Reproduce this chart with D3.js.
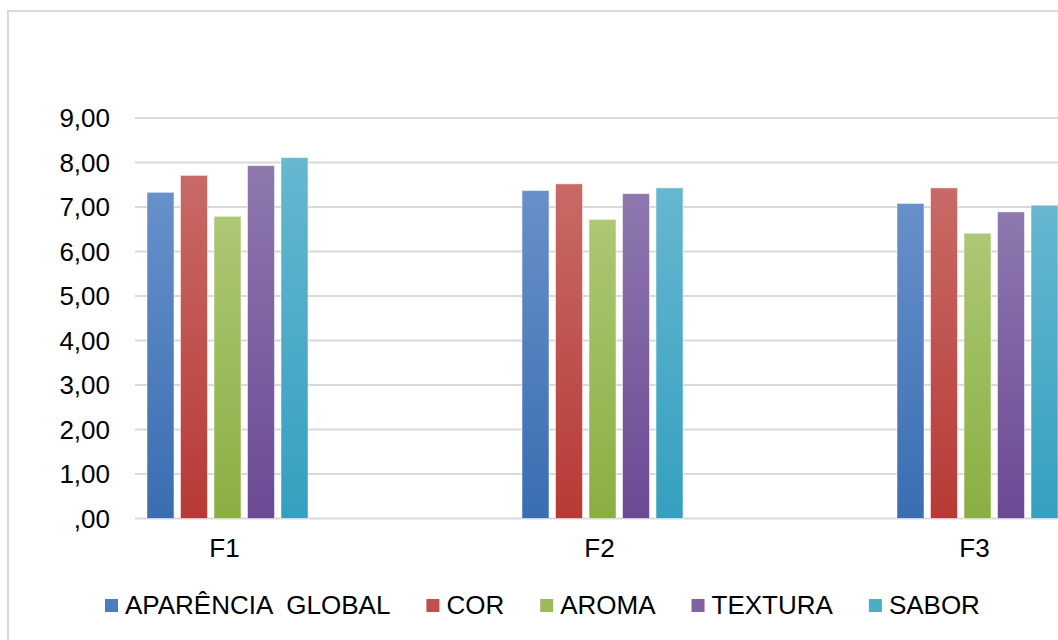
<!DOCTYPE html>
<html>
<head>
<meta charset="utf-8">
<script src="https://cdn.jsdelivr.net/npm/d3@7"></script>
<style>
  body { margin: 0; background: #fff; }
  text { font-family: "Liberation Sans", Arial, sans-serif; fill: #000; }
</style>
</head>
<body>
<div id="chart"></div>
<script>
// dados
let categories = ["F1", "F2", "F3"];
let series = ["APARÊNCIA  GLOBAL", "COR", "AROMA", "TEXTURA", "SABOR"];
let aparencia = [7.33, 7.37, 7.08];
let cor = [7.71, 7.52, 7.43];
let aroma = [6.79, 6.72, 6.41];
let textura = [7.93, 7.30, 6.89];
let sabor = [8.11, 7.43, 7.04];
let yTicks = [0, 1, 2, 3, 4, 5, 6, 7, 8, 9];
let yTickLabels = [",00", "1,00", "2,00", "3,00", "4,00", "5,00", "6,00", "7,00", "8,00", "9,00"];

let values = [aparencia, cor, aroma, textura, sabor];
// cores (topo, base) para o gradiente de cada serie
let colors = [
    ["#6890ca", "#3a6db1"],
    ["#c86a66", "#b73a36"],
    ["#acc874", "#8bae42"],
    ["#8e78ae", "#6b4a94"],
    ["#66b7d0", "#34a0bf"]
];
let legendColors = ["#4a7ebf", "#c0504d", "#9bbb59", "#8064a2", "#4bacc6"];

let W = 1058, H = 640;
let svg = d3.select("#chart").append("svg").attr("width", W).attr("height", H);

// moldura
svg.append("rect")
    .attr("x", 8).attr("y", 11)
    .attr("width", 1200).attr("height", 800)
    .attr("fill", "#fff")
    .style("stroke", "#d9d9d9")
    .style("stroke-width", 2);

let y = d3.scaleLinear().domain([0, 9]).range([518.5, 118]);
let x0 = d3.scaleBand().domain(categories).range([40, 1165]);
let x1 = d3.scaleBand().domain(series).range([0, 161]).paddingInner(0.194);

let defs = svg.append("defs");
colors.forEach((c, i) => {
    let g = defs.append("linearGradient")
        .attr("id", "grad" + i)
        .attr("x1", 0).attr("y1", 0).attr("x2", 0).attr("y2", 1);
    g.append("stop").attr("offset", "0%").attr("stop-color", c[0]);
    g.append("stop").attr("offset", "100%").attr("stop-color", c[1]);
});

// linhas de grade
svg.append("g")
    .selectAll("line")
    .data(yTicks)
    .join("line")
    .attr("x1", 135).attr("x2", W)
    .attr("y1", d => y(d)).attr("y2", d => y(d))
    .style("stroke", "#d9d9d9")
    .style("stroke-width", 2);

// rotulos do eixo y
svg.append("g")
    .selectAll("text")
    .data(yTicks)
    .join("text")
    .attr("x", 110)
    .attr("y", d => y(d))
    .attr("dy", "0.35em")
    .attr("text-anchor", "end")
    .style("font-size", "26px")
    .text((d, i) => yTickLabels[i]);

// barras
let groups = svg.append("g")
    .selectAll("g")
    .data(categories)
    .join("g")
    .attr("transform", d => "translate(" + (x0(d) + x0.bandwidth() / 2 - 80.5) + ",0)");

groups.selectAll("rect")
    .data((d, ci) => series.map((s, si) => ({ s, si, v: values[si][ci] })))
    .join("rect")
    .attr("x", d => x1(d.s))
    .attr("y", d => y(d.v))
    .attr("width", x1.bandwidth())
    .attr("height", d => y(0) - y(d.v))
    .attr("fill", d => "url(#grad" + d.si + ")")
    .style("stroke", "#fff")
    .style("stroke-opacity", 0.5)
    .style("stroke-width", 1);

// rotulos das categorias
svg.append("g")
    .selectAll("text")
    .data(categories)
    .join("text")
    .attr("x", d => x0(d) + x0.bandwidth() / 2 - 3)
    .attr("y", 557)
    .attr("text-anchor", "middle")
    .style("font-size", "26px")
    .text(d => d);

// legenda
let legend = svg.append("g");
let lx = 105;
series.forEach((s, i) => {
    legend.append("rect")
        .attr("x", lx).attr("y", 599)
        .attr("width", 13).attr("height", 13)
        .attr("fill", legendColors[i]);
    let t = legend.append("text")
        .attr("x", lx + 20)
        .attr("y", 614)
        .style("font-size", "26px")
        .style("white-space", "pre")
        .text(s);
    lx += 20 + t.node().getComputedTextLength() + 36;
});
</script>
</body>
</html>
